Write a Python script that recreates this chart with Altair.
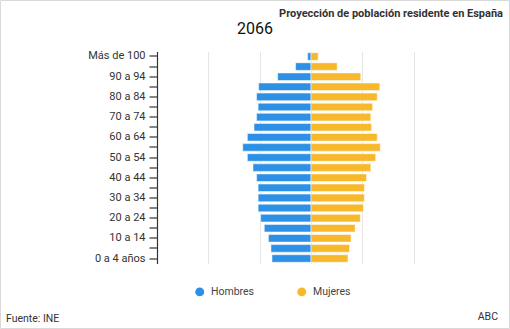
import altair as alt
import pandas as pd

ages = ["0 a 4 años", "5 a 9", "10 a 14", "15 a 19", "20 a 24", "25 a 29",
        "30 a 34", "35 a 39", "40 a 44", "45 a 49", "50 a 54", "55 a 59",
        "60 a 64", "65 a 69", "70 a 74", "75 a 79", "80 a 84", "85 a 89",
        "90 a 94", "95 a 99", "Más de 100"]
hombres = [760, 780, 830, 910, 980, 1030, 1030, 1030, 1060, 1130, 1240, 1330,
           1240, 1110, 1060, 1030, 1060, 1020, 650, 300, 65]
mujeres = [720, 750, 780, 860, 960, 1020, 1040, 1040, 1080, 1165, 1260, 1350,
           1290, 1180, 1165, 1200, 1290, 1340, 970, 510, 140]
sexos = ["Hombres", "Mujeres"]
colores = ["#2C91E6", "#F7B92B"]
shown = ["0 a 4 años", "10 a 14", "20 a 24", "30 a 34", "40 a 44", "50 a 54",
         "60 a 64", "70 a 74", "80 a 84", "90 a 94", "Más de 100"]

rows = []
for a, h, m in zip(ages, hombres, mujeres):
    rows.append({"edad": a, "sexo": "Hombres", "valor": h})
    rows.append({"edad": a, "sexo": "Mujeres", "valor": m})
df = pd.DataFrame(rows)

L, T = 157, 51.5
W, H = 308, 212
TW, TH = 510, 329

shown_js = "[" + ",".join("'" + s + "'" for s in shown) + "]"

bars = alt.Chart(df).transform_calculate(
    xv="datum.sexo == 'Hombres' ? -datum.valor : datum.valor"
).mark_bar(stroke="white", strokeWidth=0.5).encode(
    y=alt.Y("edad:N", sort=list(reversed(ages)),
            scale=alt.Scale(paddingInner=0.25, paddingOuter=0.12),
            axis=alt.Axis(title=None, grid=False,
                          labelExpr="indexof(" + shown_js + ", datum.value) >= 0 ? datum.label : ''",
                          tickSize=8, labelPadding=4, domainColor="#333", tickColor="#333",
                          labelColor="#333", labelFontSize=11, labelFont="Roboto",
                          tickWidth=1.2, domainWidth=1.2)),
    x=alt.X("xv:Q", stack=None, scale=alt.Scale(domain=[-3000, 3000], nice=False),
            axis=alt.Axis(title=None, labels=False, ticks=False, domain=False,
                          values=[-2000, -1000, 0, 1000, 2000], gridColor="#e6e6e6")),
    color=alt.Color("sexo:N", scale=alt.Scale(domain=sexos, range=colores),
                    legend=alt.Legend(title=None, orient="none", direction="horizontal",
                                      legendX=199 - 4.5 - L, legendY=286.5 - T,
                                      symbolType="circle", symbolSize=80, symbolStrokeWidth=0,
                                      labelFont="Roboto", labelFontSize=10.5, labelColor="#444",
                                      columnPadding=42, symbolOffset=0, padding=0, labelOffset=6)),
)

def txt(s, x, y, size, align="left", weight="normal", font="Roboto", color="#222"):
    return alt.Chart(pd.DataFrame({"t": [s]})).mark_text(
        align=align, baseline="alphabetic", fontSize=size, fontWeight=weight,
        font=font, color=color
    ).encode(text="t:N", x=alt.value(x - L), y=alt.value(y - T))

title1 = txt("Proyección de población residente en España", 503, 17, 11, align="right",
             weight="bold", font="Roboto", color="#333")
title2 = txt("2066", 255, 33.5, 16, align="center", color="#111")
fuente = txt("Fuente: INE", 6, 322, 10.5, color="#333")
abc = txt("ABC", 498, 320, 10.5, align="right", color="#333")

frame = alt.Chart(pd.DataFrame({"a": [0]})).mark_rect(
    fill=None, stroke="#d9d9d9", strokeWidth=1
).encode(x=alt.value(0.5 - L), x2=alt.value(TW - 0.5 - L),
         y=alt.value(0.5 - T), y2=alt.value(TH - 0.5 - T))

chart = alt.layer(bars, title1, title2, fuente, abc, frame).properties(
    width=W, height=H,
    autosize=alt.AutoSizeParams(type="none"),
    padding={"left": L, "top": T, "right": TW - L - W, "bottom": TH - T - H},
    background="white",
).configure_view(stroke=None)

chart.save("out.html", embed_options={"renderer": "svg", "actions": False})
